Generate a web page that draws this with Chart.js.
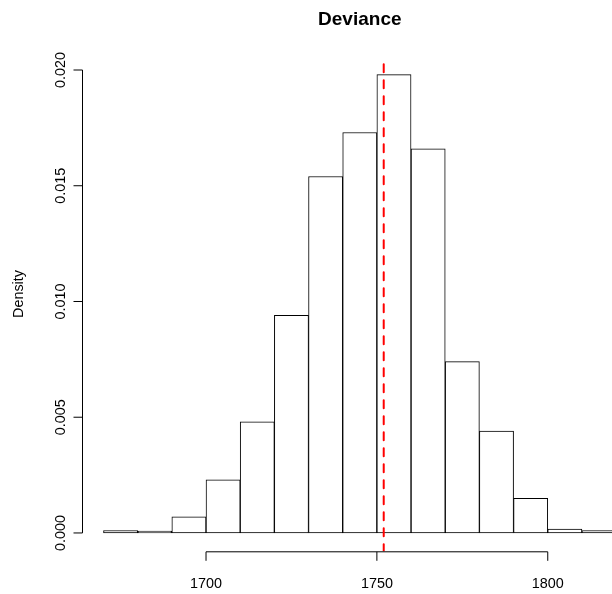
<!DOCTYPE html>
<html>
<head>
<meta charset="utf-8">
<script src="https://cdn.jsdelivr.net/npm/chart.js@4.4.1/dist/chart.umd.min.js"></script>
<style>
  html, body { margin: 0; padding: 0; background: #fff; overflow: hidden; }
  #wrap { width: 640px; height: 594px; }
</style>
</head>
<body>
<div id="wrap"><canvas id="chart" width="640" height="594"></canvas></div>
<script>
// histogram of deviance, density scale, bin width 10
const breaks = [1670, 1680, 1690, 1700, 1710, 1720, 1730, 1740, 1750, 1760, 1770, 1780, 1790, 1800, 1810, 1820];
const density = [0.0001, 0.00002, 0.0007, 0.0023, 0.0048, 0.0094, 0.0154, 0.0173, 0.0198, 0.0166, 0.0074, 0.0044, 0.0015, 0.00017, 0.0001];
const meanDeviance = 1752;
const xTicks = [1700, 1750, 1800];
const yTicks = [0, 0.005, 0.010, 0.015, 0.020];
const yTickLabels = ['0.000', '0.005', '0.010', '0.015', '0.020'];
const title = 'Deviance';
const yTitle = 'Density';

// R-style 4% range extension
const xLo = breaks[0], xHi = breaks[breaks.length - 1];
const xPad = (xHi - xLo) * 0.04;
const yHi = Math.max(...density);
const yPad = yHi * 0.04;

const canvas = document.querySelector('#chart');
const ctx = canvas.getContext('2d');
const FONT = '"Liberation Sans", Arial, Helvetica, sans-serif';

const rAxes = {
    id: 'rAxes',
    afterDatasetsDraw(chart) {
        const c = chart.ctx;
        const xs = chart.scales.x, ys = chart.scales.y;
        const area = chart.chartArea;

        // mean line, dashed red
        c.save();
        c.beginPath();
        c.rect(area.left, area.top, area.right - area.left, area.bottom - area.top);
        c.clip();
        c.strokeStyle = '#ff0000';
        c.lineWidth = 2;
        c.lineCap = 'round';
        c.setLineDash([8, 8]);
        c.lineDashOffset = 8;
        const mx = xs.getPixelForValue(meanDeviance);
        c.beginPath();
        c.moveTo(mx, area.top);
        c.lineTo(mx, area.bottom);
        c.stroke();
        c.restore();

        c.save();
        c.strokeStyle = '#000';
        c.fillStyle = '#000';
        c.lineWidth = 1;

        // x axis
        const ay = area.bottom + 0.5;
        c.beginPath();
        c.moveTo(xs.getPixelForValue(xTicks[0]), ay);
        c.lineTo(xs.getPixelForValue(xTicks[xTicks.length - 1]), ay);
        xTicks.forEach(t => {
            const px = xs.getPixelForValue(t);
            c.moveTo(px, ay);
            c.lineTo(px, ay + 9);
        });
        c.stroke();
        c.font = '14.4px ' + FONT;
        c.textAlign = 'center';
        c.textBaseline = 'alphabetic';
        xTicks.forEach(t => {
            c.fillText(String(t), xs.getPixelForValue(t), 587.5);
        });

        // y axis
        const ax = area.left - 0.5;
        c.beginPath();
        c.moveTo(ax, ys.getPixelForValue(yTicks[0]));
        c.lineTo(ax, ys.getPixelForValue(yTicks[yTicks.length - 1]));
        yTicks.forEach(t => {
            const py = ys.getPixelForValue(t);
            c.moveTo(ax, py);
            c.lineTo(ax - 9, py);
        });
        c.stroke();
        yTicks.forEach((t, i) => {
            c.save();
            c.translate(65, ys.getPixelForValue(t));
            c.rotate(-Math.PI / 2);
            c.fillText(yTickLabels[i], 0, 0);
            c.restore();
        });

        // titles
        c.save();
        c.translate(23, 294);
        c.rotate(-Math.PI / 2);
        c.fillText(yTitle, 0, 0);
        c.restore();

        c.font = 'bold 19px ' + FONT;
        c.fillText(title, (area.left + area.right) / 2, 25);
        c.restore();
    }
};

const chart = new Chart(ctx, {
    type: 'bar',
    data: {
        datasets: [{
            data: density.map((d, i) => ({ x: (breaks[i] + breaks[i + 1]) / 2, y: d })),
            backgroundColor: '#ffffff',
            borderColor: '#000000',
            borderWidth: 1,
            borderSkipped: false,
            minBarLength: 2,
            barPercentage: 1,
            categoryPercentage: 1
        }]
    },
    options: {
        responsive: false,
        animation: false,
        devicePixelRatio: 1,
        layout: { padding: { left: 83, right: 3.4, top: 56.3, bottom: 42.7 } },
        plugins: { legend: { display: false }, tooltip: { enabled: false } },
        scales: {
            x: { type: 'linear', min: xLo - xPad, max: xHi + xPad, offset: false, display: false },
            y: { min: -yPad, max: yHi + yPad, display: false }
        }
    },
    plugins: [rAxes]
});
</script>
</body>
</html>
